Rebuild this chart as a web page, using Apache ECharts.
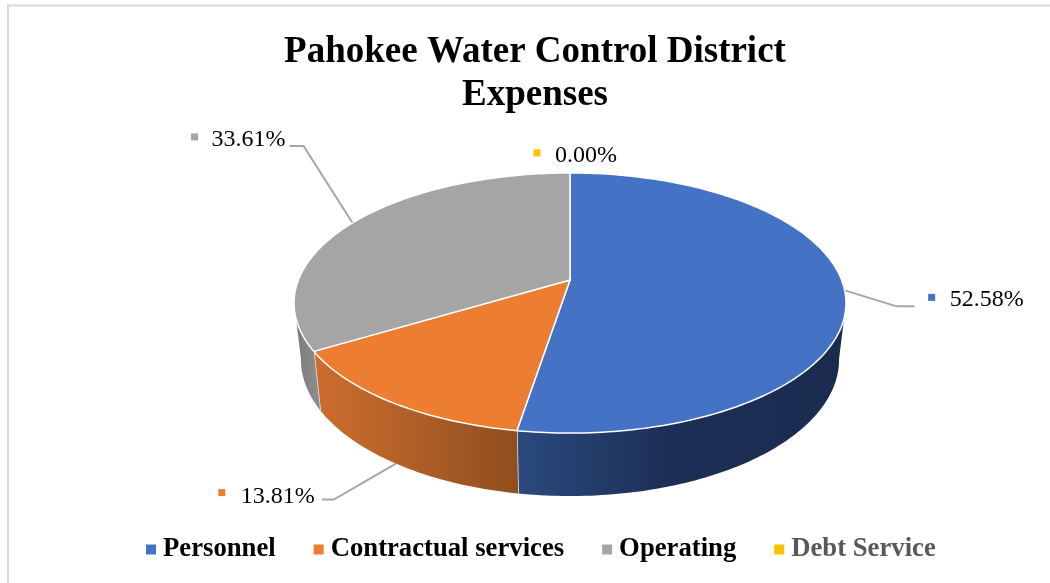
<!DOCTYPE html>
<html>
<head>
<meta charset="utf-8">
<style>html,body{margin:0;padding:0;background:#fff}#c{width:1050px;height:583px}</style>
<script src="https://cdn.jsdelivr.net/npm/echarts@6/dist/echarts.min.js"></script>
</head>
<body>
<div id="c"></div>
<script>
const categories = ['Personnel', 'Contractual services', 'Operating', 'Debt Service'];
const shares = [52.58, 13.81, 33.61, 0.00];
const topColors = ['#4472C4', '#ED7D31', '#A5A5A5', '#FFC000'];
const legendTextColors = ['#000000', '#000000', '#000000', '#595959'];
const titleText = 'Pahokee Water Control District\nExpenses';

// offsets from each slice's rim anchor: elbow, leader end, marker centre, text start
const labelOffsets = [
  { elbow: [52, 16], end: [70, 16], marker: [87, 7], text: [105, 9] },
  { elbow: [-62, 36], end: [-74, 36], marker: [-174, 29], text: [-155, 33], fromWall: true },
  { elbow: [-49, -77], end: [-63, -77], marker: [-158, -86], text: [-141, -83] },
  { marker: [-33, -20], text: [-15, -17] }
];
const wallStyles = [
  { stops: [[0, '#2B4A7E'], [0.45, '#1C2F56'], [1, '#1A2B4F']], visibleFrom: 100, visibleTo: 260 },
  { stops: [[0, '#CB6D2D'], [0.3, '#BC652A'], [1, '#8F4E1E']], visibleFrom: 100, visibleTo: 260 },
  { stops: [[0, '#7A7A7A'], [1, '#8F8F8F']], visibleFrom: 100, visibleTo: 260 }
];

// perspective projection of the pie disc
const cx = 570, cy = 280, A = 271.6, B = 126, C = -0.177;
function rim(deg) {
  const t = deg * Math.PI / 180, u = Math.sin(t), v = -Math.cos(t), d = 1 + C * v;
  return [cx + A * u / d, cy + B * v / d];
}
function lower(p) {
  return [cx + 0.975 * (p[0] - cx), p[1] + 41.7 + 0.049 * p[1]];
}
function arc(from, to) {
  const pts = [], n = Math.max(2, Math.ceil(Math.abs(to - from)));
  for (let i = 0; i <= n; i++) pts.push(rim(from + (to - from) * i / n));
  return pts;
}
const total = shares.reduce((a, b) => a + b, 0);
function span(i) {
  let s = 0;
  for (let k = 0; k < i; k++) s += shares[k];
  return [s / total * 360, (s + shares[i]) / total * 360];
}

function renderSlice(i) {
  return function () {
    const [a0, a1] = span(i);
    const mid = (a0 + a1) / 2;
    const children = [];
    const lay = labelOffsets[i];
    let anchor = rim(mid === 360 ? 0 : mid);
    if (lay.fromWall) anchor = lower(anchor);

    if (lay.elbow) {
      children.push({
        type: 'polyline',
        shape: { points: [anchor, [anchor[0] + lay.elbow[0], anchor[1] + lay.elbow[1]], [anchor[0] + lay.end[0], anchor[1] + lay.end[1]]] },
        style: { stroke: '#A6A6A6', lineWidth: 2, fill: null }
      });
    }
    if (shares[i] > 0) {
      const w = wallStyles[i];
      const wf = Math.max(a0, w.visibleFrom), wt = Math.min(a1, w.visibleTo);
      if (wt > wf) {
        const up = arc(wf, wt);
        const down = up.map(lower).reverse();
        children.push({
          type: 'polygon',
          shape: { points: up.concat(down) },
          style: {
            fill: new echarts.graphic.LinearGradient(0, 0, 1, 0, w.stops.map(s => ({ offset: s[0], color: s[1] }))),
            stroke: '#D9DEE6', lineWidth: 0
          }
        });
        if (wt < w.visibleTo || wt === a1) {
          const pe = rim(wt);
          children.push({ type: 'line', shape: { x1: pe[0], y1: pe[1], x2: lower(pe)[0], y2: lower(pe)[1] }, style: { stroke: '#E8E8E8', lineWidth: 1.5 } });
        }
      }
      children.push({
        type: 'polygon',
        shape: { points: [[cx, cy]].concat(arc(a0, a1)) },
        style: { fill: topColors[i], stroke: '#FFFFFF', lineWidth: 1.5, lineJoin: 'round' }
      });
    }
    children.push({
      type: 'rect',
      shape: { x: anchor[0] + lay.marker[0] - 3.5, y: anchor[1] + lay.marker[1] - 3.5, width: 7, height: 7 },
      style: { fill: topColors[i] }
    });
    children.push({
      type: 'text',
      x: anchor[0] + lay.text[0], y: anchor[1] + lay.text[1],
      style: {
        text: shares[i].toFixed(2) + '%',
        font: '24px "Liberation Serif"', fill: '#000000',
        align: 'left', verticalAlign: 'middle'
      }
    });
    return { type: 'group', children };
  };
}

const chart = echarts.init(document.getElementById('c'), null, { renderer: 'canvas' });
chart.setOption({
  animation: false,
  backgroundColor: '#FFFFFF',
  title: {
    text: titleText,
    left: 530, top: 26, textAlign: 'center',
    textStyle: { fontFamily: 'Liberation Serif', fontWeight: 'bold', fontSize: 37, lineHeight: 43, color: '#000000' }
  },
  legend: {
    left: 141, top: 531, icon: 'rect', itemWidth: 10, itemHeight: 10, itemGap: 38,
    selectedMode: false,
    textStyle: { fontFamily: 'Liberation Serif', fontWeight: 'bold', fontSize: 26.7, padding: [0, 0, 0, 2] },
    data: categories.map((name, i) => ({ name, textStyle: { color: legendTextColors[i] } }))
  },
  graphic: [
    { type: 'polyline', silent: true, z: 0, shape: { points: [[8, 583], [8, 5.5], [1050, 5.5]] }, style: { stroke: '#D9D9D9', lineWidth: 2, fill: null } }
  ],
  series: categories.map((name, i) => ({
    type: 'custom',
    name,
    coordinateSystem: 'none',
    silent: true,
    itemStyle: { color: topColors[i] },
    data: [[shares[i]]],
    renderItem: renderSlice(i)
  }))
});
</script>
</body>
</html>
